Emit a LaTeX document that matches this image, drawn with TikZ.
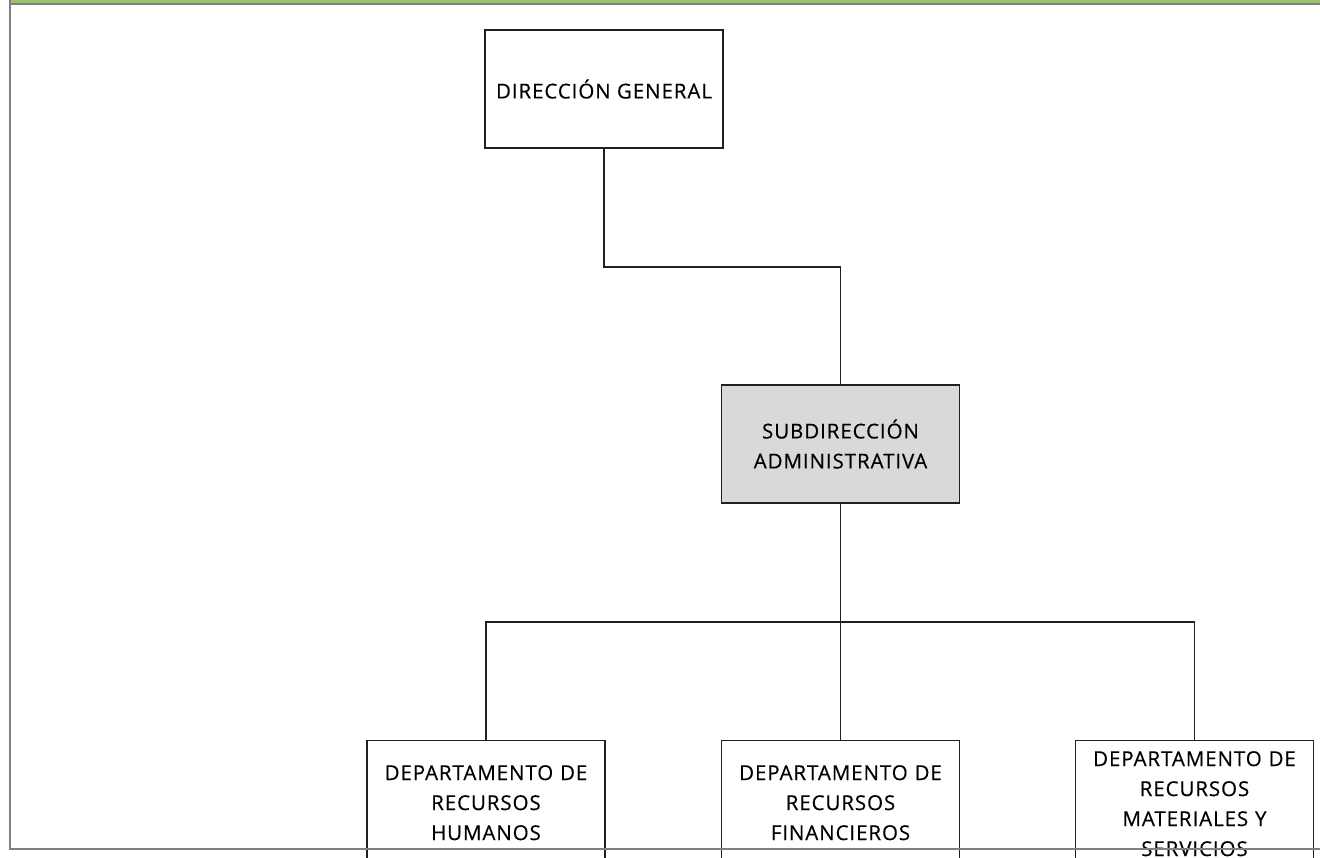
\documentclass[tikz,border=0pt]{standalone}
\usepackage{fontspec}
\setmainfont{Open Sans}
\newfontfamily\orgfont[LetterSpace=4.5, FakeBold=0.4]{Open Sans}
\definecolor{bargreen}{HTML}{9BC46A}
\definecolor{framegrey}{HTML}{808080}
\definecolor{boxline}{HTML}{202020}
\definecolor{subfill}{HTML}{D9D9D9}
\tikzset{
  orgbox/.style={draw=boxline, line width=1.4pt, rectangle, align=center,
    font=\orgfont\fontsize{20.5}{30}\selectfont, inner sep=0pt,
    minimum width=238pt, minimum height=118pt},
  deptbox/.style={orgbox, minimum height=124pt, text width=236pt},
  link/.style={draw=boxline, line width=1.4pt}
}
\begin{document}
\begin{tikzpicture}[x=1pt, y=-1pt]
  \useasboundingbox (0,0) rectangle (1320,857);
  \begin{scope}
    \clip (0,0) rectangle (1320,857);
    % page frame
    \fill[bargreen] (10,0) rectangle (1320,3.2);
    \fill[framegrey] (10,3) rectangle (1320,4.6);
    \fill[framegrey] (8.8,0) rectangle (10.8,849.5);

    % boxes
    \node[orgbox] (dg) at (604,89) {DIRECCIÓN GENERAL};
    \node[orgbox, fill=subfill] (sub) at (840.5,444) {SUBDIRECCIÓN\\ADMINISTRATIVA};
    \node[deptbox, anchor=north] (rh) at (486,740)
      {DEPARTAMENTO DE\\RECURSOS\\HUMANOS};
    \node[deptbox, anchor=north] (rf) at (840.5,740)
      {DEPARTAMENTO DE\\RECURSOS\\FINANCIEROS};
    \node[deptbox, anchor=north, minimum height=126pt] (rm) at (1194.5,740)
      {DEPARTAMENTO DE\\RECURSOS\\MATERIALES Y\\SERVICIOS};

    % connectors
    \coordinate (k1) at (604,267);
    \coordinate (bus) at (840.5,622);
    \draw[link] (dg.south) -- (k1) -| (sub.north);
    \draw[link] (sub.south) -- (bus);
    \draw[link] (rh.north) |- (bus) -| (rm.north);
    \draw[link] (bus) -- (rf.north);

    % lower frame edge over the boxes
    \fill[framegrey] (8.8,847.8) rectangle (1320,849.5);
  \end{scope}
\end{tikzpicture}
\end{document}
